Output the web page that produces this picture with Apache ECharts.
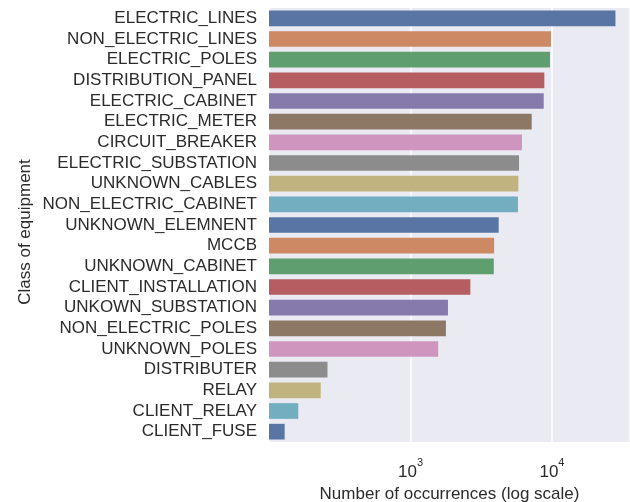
<!DOCTYPE html>
<html>
<head>
<meta charset="utf-8">
<script src="https://cdn.jsdelivr.net/npm/echarts@6/dist/echarts.min.js"></script>
<style>
  html, body { margin: 0; padding: 0; background: #ffffff; }
  #chart { width: 630px; height: 502px; }
</style>
</head>
<body>
<div id="chart"></div>
<script>
// Equipment classes, most frequent first
const categories = [
  'ELECTRIC_LINES', 'NON_ELECTRIC_LINES', 'ELECTRIC_POLES', 'DISTRIBUTION_PANEL',
  'ELECTRIC_CABINET', 'ELECTRIC_METER', 'CIRCUIT_BREAKER', 'ELECTRIC_SUBSTATION',
  'UNKNOWN_CABLES', 'NON_ELECTRIC_CABINET', 'UNKNOWN_ELEMNENT', 'MCCB',
  'UNKNOWN_CABINET', 'CLIENT_INSTALLATION', 'UNKOWN_SUBSTATION', 'NON_ELECTRIC_POLES',
  'UNKNOWN_POLES', 'DISTRIBUTER', 'RELAY', 'CLIENT_RELAY', 'CLIENT_FUSE'
];

// Number of occurrences per class
const counts = [
  28100, 9840, 9680, 8830, 8740, 7190, 6140, 5850, 5790, 5750,
  4200, 3900, 3880, 2650, 1840, 1780, 1570, 259, 232, 161, 129
];

// Log-axis tick values that carry a label
const labelledTicks = [1000, 10000];

// Muted "deep" palette, cycled over the bars
const palette = [
  '#5975A4', '#CC8963', '#5F9E6E', '#B55D60', '#857AAB',
  '#8D7866', '#D095BF', '#8C8C8C', '#C1B37F', '#71AEC0'
];

const textColor = '#2b2b2b';
const font = 'Liberation Sans, Arial, sans-serif';

const chart = echarts.init(document.getElementById('chart'), null, { renderer: 'canvas' });

chart.setOption({
  backgroundColor: '#ffffff',
  animation: false,
  grid: { left: 269, right: 0, top: 8, bottom: 60, containLabel: false,
          outerBoundsMode: 'none',
          show: true, backgroundColor: '#EAEAF2', borderWidth: 0 },
  xAxis: {
    type: 'log',
    logBase: 10,
    min: 100,
    max: 35600,
    axisLine: { show: false },
    axisTick: { show: false },
    minorTick: { show: false },
    splitLine: { show: true, lineStyle: { color: '#ffffff', width: 1.5 } },
    axisLabel: {
      showMinLabel: false,
      showMaxLabel: false,
      margin: 15,
      color: textColor,
      fontFamily: font,
      formatter: function (v) {
        const hit = labelledTicks.find(t => Math.abs(v - t) / t < 1e-6);
        if (!hit) return '';
        return '{b|10}{s|' + Math.round(Math.log10(hit)) + '}';
      },
      rich: {
        b: { fontSize: 17, color: textColor, fontFamily: font, lineHeight: 24, verticalAlign: 'bottom' },
        s: { fontSize: 11, color: textColor, fontFamily: font, lineHeight: 24, verticalAlign: 'top' }
      }
    },
    name: 'Number of occurrences (log scale)',
    nameLocation: 'middle',
    nameGap: 37,
    nameTextStyle: { fontSize: 17, color: textColor, fontFamily: font }
  },
  yAxis: {
    type: 'category',
    data: categories,
    inverse: true,
    axisLine: { show: false },
    axisTick: { show: false },
    splitLine: { show: false },
    axisLabel: { fontSize: 17, color: textColor, fontFamily: font, margin: 12, interval: 0 }
  },
  graphic: [{
    type: 'text',
    x: 25,
    y: 232,
    rotation: Math.PI / 2,
    style: {
      text: 'Class of equipment',
      fontSize: 17,
      fontFamily: font,
      fill: textColor,
      align: 'center',
      verticalAlign: 'middle'
    }
  }],
  series: [{
    type: 'bar',
    data: counts.map((v, i) => ({ value: v, itemStyle: { color: palette[i % palette.length] } })),
    barCategoryGap: '24%'
  }]
});
</script>
</body>
</html>
